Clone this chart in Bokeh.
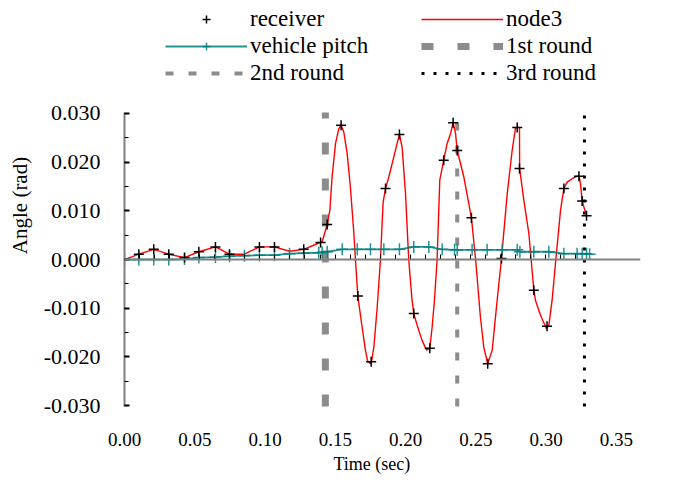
from bokeh.plotting import figure
from bokeh.models import (Range1d, LinearAxis, SingleIntervalTicker, NumeralTickFormatter,
                          Legend, LegendItem, CustomJSTickFormatter, Title, Span)
from bokeh.embed import file_html
from bokeh.resources import INLINE

FONT = "Liberation Serif"

# ---- data ----
node3_t = [0.0, 0.0102, 0.0208, 0.0315, 0.0427, 0.0529, 0.0647, 0.0747, 0.0853, 0.0960,
           0.1067, 0.1174, 0.1276, 0.1382, 0.1406, 0.1442, 0.1461, 0.1477, 0.1501, 0.1525,
           0.1541, 0.1560, 0.1584, 0.1607, 0.1632, 0.1643, 0.1660, 0.1690, 0.1714, 0.1731,
           0.1755, 0.1774, 0.1798, 0.1821, 0.1840, 0.1857, 0.1881, 0.1916, 0.1939, 0.1956,
           0.1975, 0.1999, 0.2022, 0.2046, 0.2058, 0.2082, 0.2117, 0.2149, 0.2172, 0.2189,
           0.2205, 0.2224, 0.2243, 0.2271, 0.2295, 0.2320, 0.2338, 0.2355, 0.2367, 0.2414,
           0.2468, 0.2498, 0.2532, 0.2556, 0.2584, 0.2616, 0.2651, 0.2682, 0.2723, 0.2758,
           0.2781, 0.2794, 0.2810, 0.2811, 0.2841, 0.2877, 0.2893, 0.2912, 0.2924, 0.2959,
           0.3002, 0.3019, 0.3042, 0.3066, 0.3102, 0.3126, 0.3149, 0.3184, 0.3233, 0.3244,
           0.3256, 0.3287]
node3_v = [0.0, 0.0011, 0.0021, 0.0011, 0.0004, 0.0016, 0.0026, 0.0011, 0.0011, 0.0026,
           0.0026, 0.0017, 0.0021, 0.0034, 0.0036, 0.0072, 0.0101, 0.0170, 0.0238, 0.0269,
           0.0276, 0.0262, 0.0218, 0.0149, 0.0053, 0.0, -0.0075, -0.0138, -0.0186, -0.0210,
           -0.0214, -0.0180, -0.0097, 0.0, 0.0118, 0.0146, 0.0170, 0.0211, 0.0238, 0.0257,
           0.0231, 0.0136, 0.0, -0.0084, -0.0111, -0.0135, -0.0166, -0.0186, -0.0182, -0.0138,
           -0.0084, 0.0, 0.0163, 0.0204, 0.0238, 0.0259, 0.0281, 0.0259, 0.0224, 0.0170,
           0.0086, 0.0, -0.0118, -0.0180, -0.0214, -0.0186, -0.0084, 0.0002, 0.0136, 0.0224,
           0.0269, 0.0272, 0.0271, 0.0187, 0.0122, 0.0053, 0.0, -0.0063, -0.0084, -0.0114,
           -0.0142, -0.0135, -0.0084, -0.0008, 0.0101, 0.0146, 0.0159, 0.0166, 0.0173, 0.0156,
           0.0120, 0.0090]

receiver_t = [0.0102, 0.0208, 0.0315, 0.0427, 0.0529, 0.0647, 0.0747, 0.0960, 0.1067, 0.1275,
              0.1395, 0.1442, 0.1541, 0.1660, 0.1755, 0.1857, 0.1956, 0.2058, 0.2172, 0.2271,
              0.2338, 0.2367, 0.2468, 0.2584, 0.2682, 0.2794, 0.2810, 0.2912, 0.3006, 0.3126,
              0.3233, 0.3256, 0.3287]
receiver_v = [0.0011, 0.0021, 0.0011, 0.0004, 0.0016, 0.0026, 0.0011, 0.0026, 0.0026, 0.0021,
              0.0035, 0.0072, 0.0276, -0.0075, -0.0210, 0.0146, 0.0257, -0.0111, -0.0182, 0.0204,
              0.0281, 0.0224, 0.0086, -0.0214, 0.0002, 0.0271, 0.0187, -0.0063, -0.0137, 0.0146,
              0.0171, 0.0120, 0.0090]

pitch_t = [0.0, 0.0102, 0.0208, 0.0315, 0.0427, 0.0529, 0.0647, 0.0747, 0.0853, 0.0960,
           0.1067, 0.1174, 0.1275, 0.1382, 0.1406, 0.1442, 0.1549, 0.1656, 0.1750, 0.1845,
           0.1956, 0.2058, 0.2165, 0.2260, 0.2348, 0.2367, 0.2473, 0.2580, 0.2687, 0.2794,
           0.2813, 0.2912, 0.3019, 0.3126, 0.3220, 0.3256, 0.3287, 0.3309]
pitch_v = [0.0, 0.0, 0.0, 0.0, 0.0001, 0.0004, 0.0005, 0.0007, 0.0008, 0.0009,
           0.0009, 0.0012, 0.0013, 0.0014, 0.0015, 0.0016, 0.0021, 0.0021, 0.0021, 0.0021,
           0.0021, 0.0026, 0.0026, 0.0021, 0.0020, 0.0020, 0.0020, 0.0020, 0.0020, 0.0020,
           0.0016, 0.0016, 0.0016, 0.0012, 0.0012, 0.0012, 0.0012, 0.0011]

round_names = ["1st round", "2nd round", "3rd round"]
round_t = [0.1429, 0.2367, 0.3272]
round_lo = -0.0302
round_hi = 0.0302

# ---- figure ----
p = figure(width=682, height=482, output_backend="svg", toolbar_location=None,
           x_range=Range1d(0, 0.3671), y_range=Range1d(-0.031, 0.0532),
           min_border_left=124, min_border_right=42, min_border_top=0, min_border_bottom=72)
p.outline_line_color = None
p.grid.visible = False
p.background_fill_color = "white"

# y axis
ya = p.yaxis[0]
ya.ticker = SingleIntervalTicker(interval=0.01, num_minor_ticks=2)
ya.formatter = NumeralTickFormatter(format="0.000")
ya.bounds = (-0.0301, 0.0301)
ya.major_tick_in = 5
ya.major_tick_out = 0
ya.minor_tick_in = 4
ya.minor_tick_out = 0
ya.major_tick_line_width = 2
ya.major_tick_line_color = "black"
ya.minor_tick_line_color = "black"
ya.axis_line_color = "#808080"
ya.axis_line_width = 2
ya.major_label_standoff = 24
ya.major_label_text_font = FONT
ya.major_label_text_font_size = "22px"
ya.major_label_text_color = "black"

# y axis title, centred on the zero line
ytitle = Title(text="Angle (rad)", align="center", vertical_align="top", offset=-54,
               standoff=13, text_font=FONT, text_font_size="21px",
               text_font_style="normal", text_color="black")
p.add_layout(ytitle, "left")

# bottom axis: labels only
xa = p.xaxis[0]
xa.ticker = SingleIntervalTicker(interval=0.05, num_minor_ticks=0)
xa.formatter = NumeralTickFormatter(format="0.00")
xa.axis_line_color = None
xa.major_tick_line_color = None
xa.minor_tick_line_color = None
xa.major_label_standoff = 16
xa.major_label_text_font = FONT
xa.major_label_text_font_size = "19px"
xa.major_label_text_color = "black"

# zero line with small ticks
p.add_layout(Span(location=0, dimension="width", line_color="#808080", line_width=2))
za = LinearAxis(fixed_location=0, bounds=(0, 0.331),
                ticker=SingleIntervalTicker(interval=0.0107, num_minor_ticks=0),
                formatter=CustomJSTickFormatter(code="return ''"),
                axis_line_color=None,
                major_tick_in=5, major_tick_out=0, major_tick_line_color="black",
                minor_tick_line_color=None, major_label_standoff=0)
p.add_layout(za, "below")

xtitle = Title(text="Time (sec)", align="left", offset=209, standoff=6,
               text_font=FONT, text_font_size="18px", text_font_style="normal",
               text_color="black")
p.add_layout(xtitle, "below")

# round markers
r1 = p.segment(x0=[round_t[0]], y0=[round_lo], x1=[round_t[0]], y1=[round_hi],
               line_color="#8c8c8c", line_width=7, line_dash="12 24")
r2 = p.segment(x0=[round_t[1]], y0=[round_lo], x1=[round_t[1]], y1=[round_hi],
               line_color="#8c8c8c", line_width=4, line_dash="8 15")
r3 = p.segment(x0=[round_t[2]], y0=[round_lo], x1=[round_t[2]], y1=[round_hi],
               line_color="black", line_width=3, line_dash="3 9")

# series
rn = p.line(node3_t, node3_v, line_color="#ff0000", line_width=1.4)
rpl = p.line(pitch_t, pitch_v, line_color="#008080", line_width=1.8, line_alpha=0.85)
rps = p.scatter(pitch_t, pitch_v, marker="cross", size=12, line_color="#008080",
                line_width=1.5, line_alpha=0.85)
rr = p.scatter(receiver_t, receiver_v, marker="cross", size=10, line_color="black",
               line_width=1.5)

legend = Legend(items=[
    LegendItem(label="receiver", renderers=[rr]),
    LegendItem(label="node3", renderers=[rn]),
    LegendItem(label="vehicle pitch", renderers=[rpl, rps]),
    LegendItem(label=round_names[0], renderers=[r1]),
    LegendItem(label=round_names[1], renderers=[r2]),
    LegendItem(label=round_names[2], renderers=[r3]),
], location=(41, 324), orientation="horizontal", ncols=2,
   glyph_width=82, glyph_height=20, label_height=20, label_width=170,
   label_standoff=3, spacing=1, padding=0, margin=0,
   label_text_font=FONT, label_text_font_size="23px", label_text_color="black",
   background_fill_alpha=0, border_line_alpha=0)
p.add_layout(legend, "center")

open("out.html", "w").write(file_html(p, INLINE))
